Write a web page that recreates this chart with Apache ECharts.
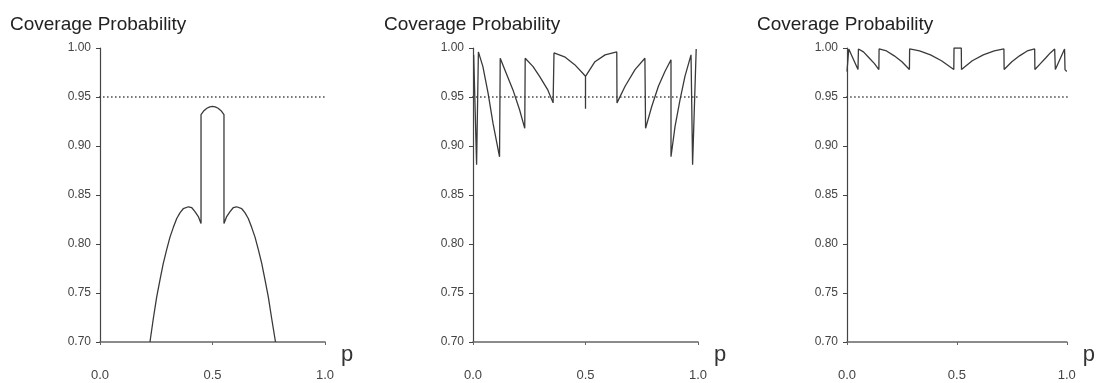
<!DOCTYPE html>
<html>
<head>
<meta charset="utf-8">
<script src="https://cdn.jsdelivr.net/npm/echarts@6/dist/echarts.min.js"></script>
<style>
html,body{margin:0;padding:0;background:#fff;}
#chart{width:1098px;height:383px;}
</style>
</head>
<body>
<div id="chart"></div>
<script>
// ---- Data ----
const panelTitle = 'Coverage Probability';
const xAxisName = 'p';
const nominalLevel = 0.95;
const nominalSpanP = [-0.022, 1.013];

// Panel 1
const p1 = [0.222,0.237,0.252,0.267,0.281,0.296,0.311,0.326,0.341,0.356,0.370,0.393,0.408,0.422,0.437,0.449,
            0.449,0.462,0.475,0.488,0.500,0.512,0.525,0.538,0.551,
            0.551,0.563,0.578,0.592,0.607,0.630,0.644,0.659,0.674,0.689,0.704,0.719,0.733,0.748,0.763,0.780];
const c1 = [0.700,0.724,0.746,0.764,0.780,0.794,0.807,0.817,0.826,0.832,0.836,0.838,0.837,0.833,0.828,0.821,
            0.932,0.936,0.9385,0.940,0.9405,0.940,0.9385,0.936,0.932,
            0.821,0.828,0.833,0.837,0.838,0.836,0.832,0.826,0.817,0.807,0.794,0.780,0.764,0.746,0.724,0.700];

// Panel 2
const p2 = [0.003,0.016,0.024,0.044,0.067,0.089,0.118,
            0.121,0.148,0.178,0.207,0.230,
            0.232,0.267,0.296,0.333,0.356,
            0.360,0.407,0.452,0.489,0.500,0.500,0.500,
            0.542,0.587,0.639,
            0.640,0.676,0.720,0.764,
            0.767,0.794,0.824,0.853,0.880,
            0.880,0.898,0.920,0.942,0.969,
            0.972,0.976,0.992];
const c2 = [0.993,0.881,0.996,0.981,0.954,0.923,0.889,
            0.9895,0.974,0.957,0.937,0.918,
            0.9895,0.981,0.971,0.957,0.944,
            0.995,0.991,0.983,0.974,0.971,0.938,0.971,
            0.986,0.993,0.996,
            0.944,0.961,0.978,0.9895,
            0.918,0.940,0.961,0.976,0.988,
            0.889,0.920,0.947,0.971,0.993,
            0.995,0.881,0.999];

// Panel 3
const p3 = [0.000,0.007,0.008,0.050,0.052,0.075,0.100,0.125,0.145,
            0.146,0.180,0.215,0.250,0.284,
            0.285,0.330,0.380,0.430,0.486,
            0.487,0.520,0.521,0.570,0.620,0.670,0.714,
            0.715,0.750,0.785,0.820,0.854,
            0.855,0.880,0.905,0.925,0.945,
            0.948,0.990,0.992,1.000];
const c3 = [0.976,0.978,0.999,0.978,0.999,0.996,0.990,0.984,0.978,
            0.999,0.997,0.992,0.986,0.978,
            0.999,0.997,0.993,0.987,0.978,
            1.000,1.000,0.978,0.987,0.993,0.997,0.999,
            0.978,0.986,0.992,0.997,0.999,
            0.978,0.984,0.990,0.995,0.999,
            0.978,0.999,0.978,0.976];

const yMin = 0.70, yMax = 1.00, yStep = 0.05;

// ---- Layout ----
const grids = [
  {left: 100, top: 48, width: 225, height: 294},
  {left: 473, top: 48, width: 225, height: 294},
  {left: 847, top: 48, width: 223, height: 294}
];
const titleLeft = [10, 384, 757];
const FONT = '"Liberation Sans", Arial, Helvetica, sans-serif';

const zip = (a, b) => a.map((v, i) => [v, b[i]]);
const datasets = [zip(p1, c1), zip(p2, c2), zip(p3, c3)];

const option = {
  backgroundColor: '#fff',
  animation: false,
  title: titleLeft.map(l => ({
    text: panelTitle, left: l, top: 15, padding: 0,
    textStyle: {fontFamily: FONT, fontSize: 19, fontWeight: 'normal', color: '#222'}
  })),
  grid: grids,
  xAxis: grids.map((g, i) => ({
    gridIndex: i, type: 'value', min: 0, max: 1, interval: 0.5,
    name: xAxisName, nameLocation: 'end', nameGap: 16,
    nameTextStyle: {fontFamily: FONT, fontSize: 22, color: '#333', verticalAlign: 'top', padding: [2, 0, 0, 0]},
    axisLine: {show: true, lineStyle: {color: '#666', width: 1.6}},
    axisTick: {show: true, length: 3, lineStyle: {color: '#666', width: 1}},
    axisLabel: {margin: 27, fontFamily: FONT, fontSize: 13, color: '#444',
                formatter: v => v.toFixed(1), showMinLabel: true, showMaxLabel: true},
    splitLine: {show: false}
  })),
  yAxis: grids.map((g, i) => ({
    gridIndex: i, type: 'value', min: yMin, max: yMax, interval: yStep,
    axisLine: {show: true, lineStyle: {color: '#444', width: 1.2}},
    axisTick: {show: true, length: 4, lineStyle: {color: '#444', width: 1}},
    axisLabel: {margin: 9, fontFamily: FONT, fontSize: 12, color: '#444',
                formatter: v => v.toFixed(2)},
    splitLine: {show: false}
  })),
  series: []
};

datasets.forEach((d, i) => {
  option.series.push({
    type: 'line', xAxisIndex: i, yAxisIndex: i,
    data: [[nominalSpanP[0], nominalLevel], [nominalSpanP[1], nominalLevel]],
    showSymbol: false, clip: false, silent: true,
    lineStyle: {color: '#444', width: 1.3, type: [1.5, 2.5]}
  });
  option.series.push({
    type: 'line', xAxisIndex: i, yAxisIndex: i,
    data: d, showSymbol: false, smooth: false,
    lineStyle: {color: '#3a3a3a', width: 1.3}
  });
});

const chart = echarts.init(document.getElementById('chart'), null, {renderer: 'canvas'});
chart.setOption(option);
</script>
</body>
</html>
